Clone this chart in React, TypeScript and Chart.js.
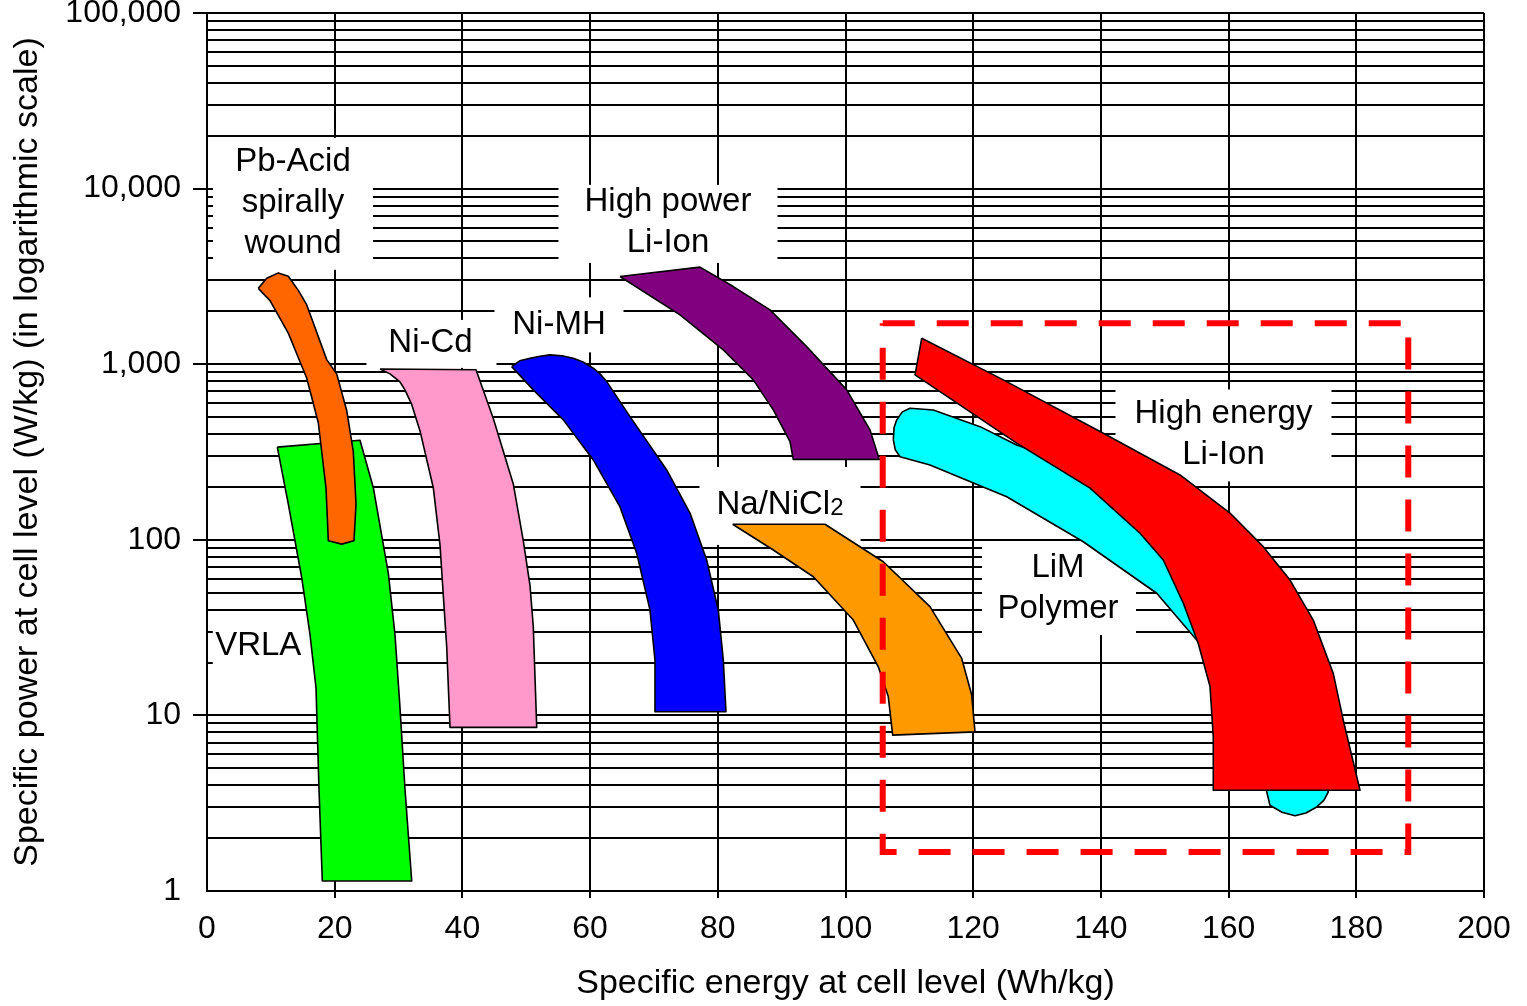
import React, { useEffect, useRef } from 'react';
import { Chart, registerables } from 'chart.js';

Chart.register(...registerables);

const FONT_FAMILY = "'Liberation Sans', Arial, Helvetica, sans-serif";

// ---------- axis ticks ----------
const X_TICKS = [0, 20, 40, 60, 80, 100, 120, 140, 160, 180, 200];
const Y_TICKS = [
  1, 2, 3, 4, 5, 6, 7, 8, 9,
  10, 20, 30, 40, 50, 60, 70, 80, 90,
  100, 200, 300, 400, 500, 600, 700, 800, 900,
  1000, 2000, 3000, 4000, 5000, 6000, 7000, 8000, 9000,
  10000, 20000, 30000, 40000, 50000, 60000, 70000, 80000, 90000,
  100000,
];
const Y_MAJOR = [1, 10, 100, 1000, 10000, 100000];
const Y_MAJOR_LABELS = ['1', '10', '100', '1,000', '10,000', '100,000'];

// ---------- regions: [specific energy Wh/kg, specific power W/kg] ----------
const vrla: [number, number][] = [
  [11.01, 337], [23.96, 369], [26.05, 198], [28.4, 64.4], [29.44, 28.9], [30.23, 11.0],
  [31.01, 3.8], [32.06, 1.14], [18.06, 1.14], [17.54, 3.8], [17.07, 14.4], [16.13, 28.9],
  [14.83, 61], [12.73, 160], [11.01, 337],
];
const pbAcidSpiral: [number, number][] = [
  [8.03, 2704], [9.35, 3090], [11.17, 3311], [12.73, 3172], [14.3, 2633], [15.61, 2183],
  [18.75, 1062], [20.31, 881], [21.88, 545], [22.91, 319], [23.34, 160], [23.02, 98.7],
  [21.1, 94.5], [19.0, 98.7], [18.64, 197], [17.43, 464], [15.61, 835], [12.73, 1502],
  [9.87, 2303], [8.03, 2704],
];
const niCd: [number, number][] = [
  [27.1, 939], [42.13, 929], [44.84, 490], [47.97, 208], [49.54, 98.7], [50.59, 54.8],
  [51.1, 32.1], [51.64, 8.55], [38.06, 8.55], [37.54, 24.6], [36.49, 93.5], [35.44, 198],
  [33.36, 417], [32.06, 590], [31.0, 714], [30.23, 792], [28.66, 881], [27.1, 939],
];
const niMH: [number, number][] = [
  [47.72, 969], [48.98, 1045], [50.59, 1082], [52.15, 1111], [53.72, 1130], [55.6, 1118],
  [57.37, 1082], [58.89, 1030], [60.5, 949], [61.55, 881], [62.6, 796],
  [66.25, 503], [72.0, 250], [75.65, 142], [78.26, 76.7], [80.08, 39.8], [80.86, 20.7],
  [81.28, 10.5], [70.16, 10.5], [70.16, 20.7], [69.38, 39.8], [67.3, 83.8], [64.68, 154],
  [60.5, 285], [55.8, 482], [51.1, 714], [47.72, 969],
];
const highPowerLiIon: [number, number][] = [
  [64.68, 3157], [77.21, 3570], [82.43, 2768], [88.18, 2039], [93.92, 1259], [100.19, 714],
  [103.84, 422], [105.29, 287], [91.82, 287], [91.31, 362], [88.69, 549], [85.56, 814],
  [80.86, 1206], [74.08, 1910], [64.68, 3157],
];
const naNiCl2: [number, number][] = [
  [82.33, 122.6], [96.79, 122.6], [105.92, 75.0], [113.23, 41.6], [118.2, 21.1], [119.76, 13.1],
  [120.28, 8.06], [107.39, 7.72], [106.7, 12.8], [105.14, 18.9], [101.22, 34.9], [94.96, 61.6],
  [88.69, 87.5], [82.33, 122.6],
];
const limPolymer: [number, number][] = [
  [107.49, 371], [107.6, 434], [108.02, 482], [108.9, 535], [110.1, 561], [113.75, 549],
  [121.07, 441], [126.81, 347],
  [133.59, 285], [144.56, 158], [153.95, 76.7], [160.22, 34.9], [166.48, 12.2], [172.75, 5.81],
  [175.62, 3.67], [174.94, 3.29], [173.8, 3.01], [172.12, 2.78], [170.4, 2.68], [168.36, 2.81],
  [166.48, 3.08], [165.97, 3.67], [163.35, 7.23],
  [158.97, 15.9], [155.0, 26.9], [148.74, 49.6], [137.24, 97.5], [125.25, 176], [113.23, 267],
  [108.54, 297], [107.8, 325], [107.49, 371],
];
const highEnergyLiIon: [number, number][] = [
  [111.94, 1406], [124.71, 814], [140.38, 404], [152.39, 234], [160.22, 142], [165.43, 91.4],
  [169.62, 59.0], [173.26, 34.9], [176.4, 17.3], [177.96, 9.4], [180.58, 3.75], [157.6, 3.75],
  [157.6, 7.55], [157.09, 14.6], [155.25, 25.7], [152.91, 43.5], [149.77, 76.7], [146.12, 109],
  [138.3, 197], [126.81, 355], [110.89, 869], [111.94, 1406],
];
// dashed frame around the Li-based technologies
const frameX = [105.83, 188.14, 188.14, 105.83, 105.83];
const frameY = [1713, 1713, 1.67, 1.67, 1713];

// ---------- annotations (anchor in data units; box = [dx, dy, w, h] in px) ----------
const REGION_LABELS = [
  { lines: ['Pb-Acid', 'spirally', 'wound'], x: 13.47, y: 8300, box: [0, 1, 160, 132] },
  { lines: ['High power', 'Li-Ion'], x: 72.2, y: 6380, box: [0, 1, 219, 78] },
  { lines: ['Ni-Cd'], x: 35.0, y: 1322, box: [1, 1, 130, 48] },
  { lines: ['Ni-MH'], x: 55.13, y: 1675, box: [0, 0, 129, 55] },
  { lines: ['Na/NiCl'], sub: '2', x: 89.74, y: 158, box: [0, 1, 161, 78] },
  { lines: ['High energy', 'Li-Ion'], x: 159.2, y: 398, box: [0, 1, 216, 92] },
  { lines: ['LiM', 'Polymer'], x: 133.28, y: 53.1, box: [1, 2, 154, 90] },
  { lines: ['VRLA'], x: 8.03, y: 24.8, box: [8, -1, 107, 45] },
];
const LABEL_FONT_SIZE = 33;
const LABEL_LINE_GAP = 41;

const toPoints = (arr: [number, number][]) => arr.map(([x, y]) => ({ x, y }));

const regionDataset = (label: string, pts: [number, number][], color: string, order: number) => ({
  label,
  data: toPoints(pts),
  backgroundColor: color,
  borderColor: '#000000',
  borderWidth: 1.6,
  borderJoinStyle: 'round',
  pointRadius: 0,
  pointHoverRadius: 0,
  tension: 0,
  fill: 'shape',
  order,
});

const labelPlugin = {
  id: 'regionLabels',
  beforeDatasetsDraw(chart: any) {
    const { ctx } = chart;
    const xs = chart.scales.x;
    const ys = chart.scales.y;
    ctx.save();
    for (const lab of REGION_LABELS) {
      const cx = xs.getPixelForValue(lab.x);
      const cy = ys.getPixelForValue(lab.y);
      const [dx, dy, w, h] = lab.box;
      ctx.fillStyle = '#ffffff';
      ctx.fillRect(cx + dx - w / 2, cy + dy - h / 2, w, h);
      ctx.fillStyle = '#000000';
      ctx.textBaseline = 'middle';
      const n = lab.lines.length;
      lab.lines.forEach((line, i) => {
        const ly = cy + (i - (n - 1) / 2) * LABEL_LINE_GAP;
        ctx.font = `${LABEL_FONT_SIZE}px ${FONT_FAMILY}`;
        if ((lab as any).sub && i === n - 1) {
          const mainW = ctx.measureText(line).width;
          ctx.font = `24px ${FONT_FAMILY}`;
          const subW = ctx.measureText((lab as any).sub).width;
          const left = cx - (mainW + subW) / 2;
          ctx.textAlign = 'left';
          ctx.font = `${LABEL_FONT_SIZE}px ${FONT_FAMILY}`;
          ctx.fillText(line, left, ly);
          ctx.font = `24px ${FONT_FAMILY}`;
          ctx.fillText((lab as any).sub, left + mainW, ly + 3);
        } else {
          ctx.textAlign = 'center';
          ctx.fillText(line, cx, ly);
        }
      });
    }
    ctx.restore();
  },
};

export default function App() {
  const canvasRef = useRef<HTMLCanvasElement | null>(null);

  useEffect(() => {
    document.body.style.margin = '0';
    document.body.style.overflow = 'hidden';
    const canvas = canvasRef.current;
    if (!canvas) return;

    const chart = new Chart(canvas, {
      type: 'line',
      data: {
        datasets: [
          {
            label: 'frame',
            data: frameX.map((x, i) => ({ x, y: frameY[i] })),
            borderColor: '#FF0000',
            borderWidth: 6,
            borderDash: [32, 22],
            borderCapStyle: 'butt',
            pointRadius: 0,
            fill: false,
            tension: 0,
            order: 0,
          },
          regionDataset('High energy Li-Ion', highEnergyLiIon, '#FF0000', 1),
          regionDataset('LiM Polymer', limPolymer, '#00FFFF', 2),
          regionDataset('Na/NiCl2', naNiCl2, '#FF9900', 3),
          regionDataset('High power Li-Ion', highPowerLiIon, '#800080', 4),
          regionDataset('Ni-MH', niMH, '#0000FF', 5),
          regionDataset('Ni-Cd', niCd, '#FF99CC', 6),
          regionDataset('Pb-Acid spirally wound', pbAcidSpiral, '#FF6600', 7),
          regionDataset('VRLA', vrla, '#00FF00', 8),
        ] as any,
      },
      options: {
        responsive: false,
        animation: false,
        devicePixelRatio: 1,
        layout: { padding: { top: 13, right: 43, left: 0, bottom: 0 } },
        plugins: {
          legend: { display: false },
          tooltip: { enabled: false },
        },
        events: [],
        scales: {
          x: {
            type: 'linear',
            min: 0,
            max: 200,
            afterBuildTicks: (scale: any) => {
              scale.ticks = X_TICKS.map((v) => ({ value: v }));
            },
            afterFit: (scale: any) => {
              scale.height = 115;
            },
            ticks: {
              autoSkip: false,
              maxRotation: 0,
              color: '#000',
              padding: 12,
              font: { size: 32, family: FONT_FAMILY },
            },
            grid: {
              color: '#000',
              lineWidth: 2,
              tickLength: 7,
              tickColor: (c: any) => (c.tick && c.tick.value === 0 ? 'rgba(0,0,0,0)' : '#000'),
            },
            border: { display: true, color: '#000', width: 2 },
            title: {
              display: true,
              text: 'Specific energy at cell level (Wh/kg)',
              color: '#000',
              font: { size: 34, family: FONT_FAMILY },
              padding: { top: 0, bottom: 2 },
            },
          },
          y: {
            type: 'logarithmic',
            min: 1,
            max: 100000,
            afterBuildTicks: (scale: any) => {
              scale.ticks = Y_TICKS.map((v) => ({ value: v, major: Y_MAJOR.includes(v) }));
            },
            afterFit: (scale: any) => {
              scale.width = 207;
              scale.paddingTop = 0;
              scale.paddingBottom = 0;
            },
            ticks: {
              autoSkip: false,
              color: '#000',
              padding: 12,
              font: { size: 32, family: FONT_FAMILY },
              callback: (value: any) => {
                const idx = Y_MAJOR.indexOf(Number(value));
                return idx >= 0 ? Y_MAJOR_LABELS[idx] : '';
              },
            },
            grid: {
              color: '#000',
              lineWidth: 2,
              tickLength: 14,
              tickColor: (c: any) =>
                c.tick && Y_MAJOR.includes(c.tick.value) && c.tick.value !== 1 ? '#000' : 'rgba(0,0,0,0)',
            },
            border: { display: true, color: '#000', width: 2 },
            title: {
              display: true,
              text: 'Specific power at cell level (W/kg) (in logarithmic scale)',
              color: '#000',
              font: { size: 34, family: FONT_FAMILY },
              padding: { top: 7, bottom: 0 },
            },
          },
        },
      } as any,
      plugins: [labelPlugin],
    });

    return () => {
      chart.destroy();
    };
  }, []);

  return (
    <div style={{ width: 1527, height: 1006, position: 'relative' }}>
      <canvas ref={canvasRef} width={1527} height={1006} style={{ display: 'block' }} />
    </div>
  );
}
